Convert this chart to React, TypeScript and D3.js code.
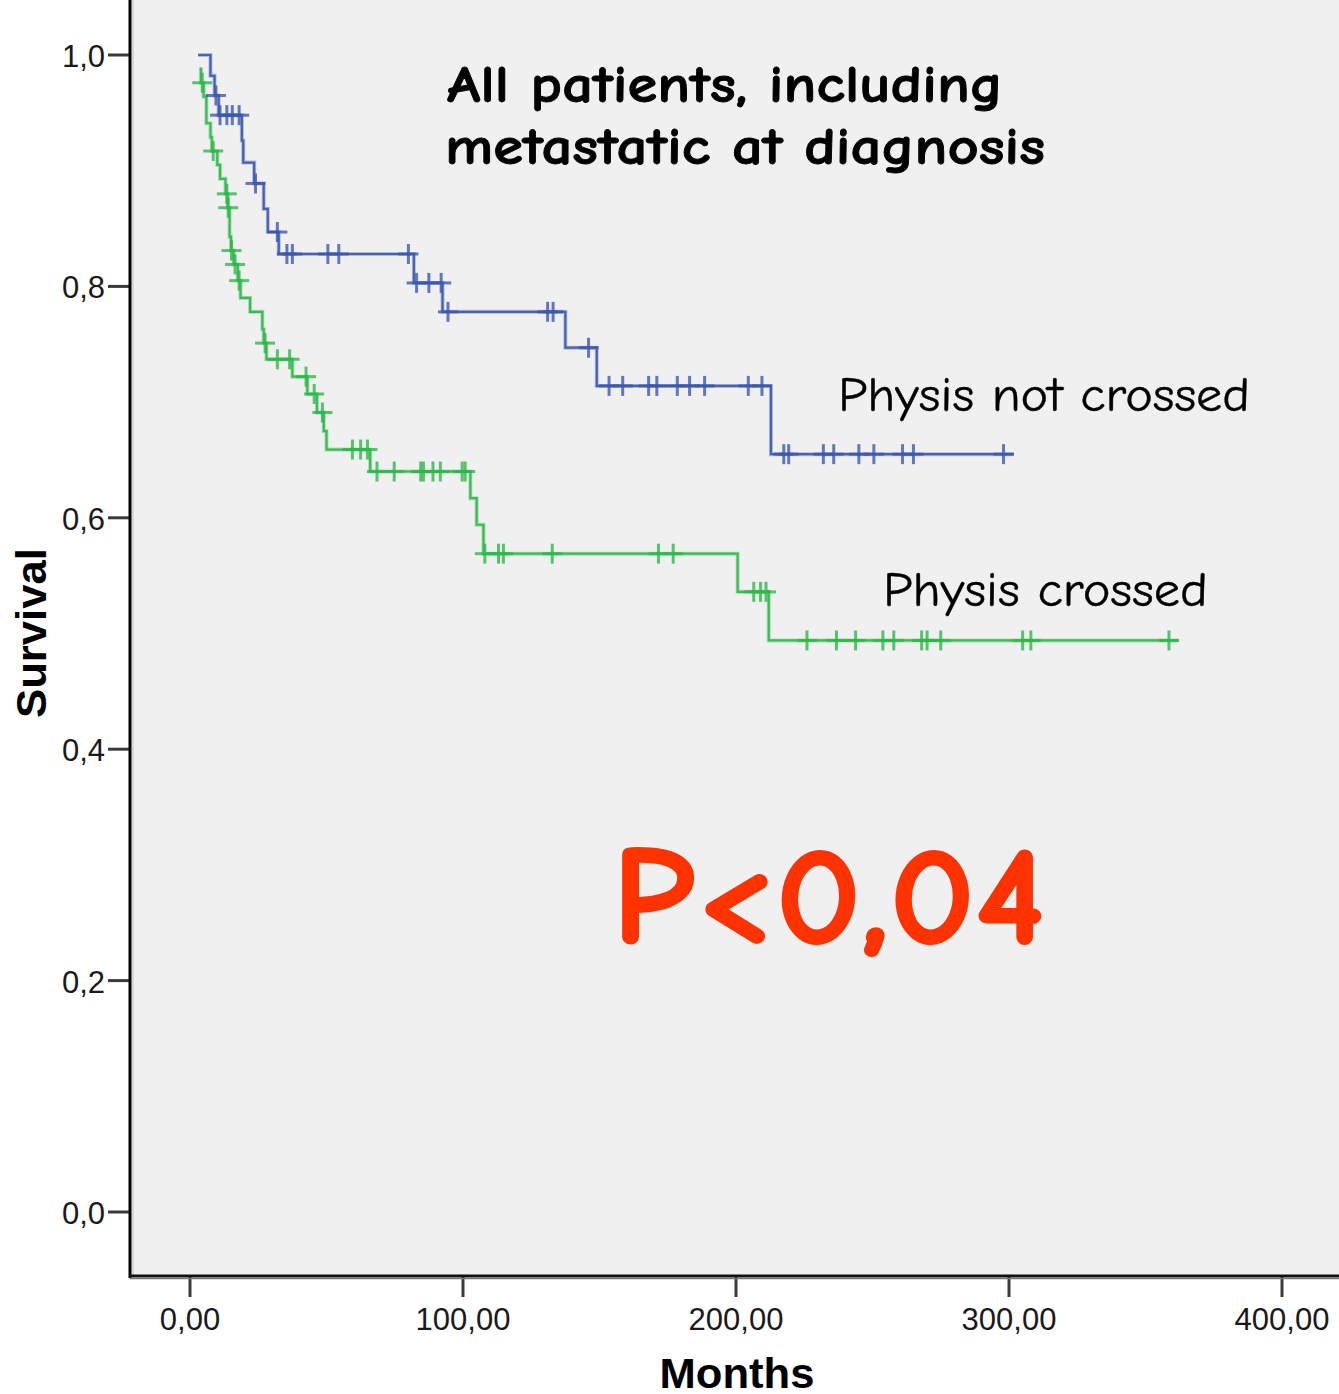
import React, { useEffect } from "react";
import * as d3 from "d3";

// ---- data ----
const yTicks = [0, 0.2, 0.4, 0.6, 0.8, 1.0];
const yTickLabels = ["0,0", "0,2", "0,4", "0,6", "0,8", "1,0"];
const xTicks = [0, 100, 200, 300, 400];
const xTickLabels = ["0,00", "100,00", "200,00", "300,00", "400,00"];

// Physis not crossed (blue): [time, survival] step points
const notCrossedSteps: [number, number][] = [
  [3, 1.0], [7.5, 0.982], [9, 0.965], [10.5, 0.948], [19, 0.926], [19.5, 0.907],
  [23.5, 0.889], [27, 0.867], [28.5, 0.847], [32.5, 0.828], [82, 0.803],
  [92.5, 0.778], [137.5, 0.747], [149, 0.714], [212.8, 0.655],
];
const notCrossedEnd = 301.8;
const notCrossedCensored = [
  9.5, 11, 13.5, 15.5, 18, 24, 32, 35.5, 37.5, 50.5, 54.5, 80, 83, 87.5, 92,
  94.5, 131, 133, 146, 153.5, 158.5, 168, 171, 178.5, 183, 188.5, 204.5, 209.5,
  217.5, 219.3, 232, 235.8, 245, 250.5, 261, 265, 298,
];

// Physis crossed (green)
const crossedSteps: [number, number][] = [
  [3.5, 0.988], [4, 0.976], [5, 0.964], [6, 0.941], [7.5, 0.929], [8, 0.917],
  [10, 0.905], [11, 0.893], [13, 0.88], [13.8, 0.868], [14.5, 0.843], [15, 0.831],
  [16, 0.819], [17.5, 0.805], [18.5, 0.79], [22, 0.778], [26.5, 0.763], [27, 0.751],
  [28, 0.737], [37.5, 0.722], [43, 0.707], [46.5, 0.691], [49, 0.675], [50, 0.659],
  [66, 0.64], [102.7, 0.617], [105, 0.594], [107.5, 0.569], [200.6, 0.536], [212, 0.494],
];
const crossedEnd = 362;
const crossedCensored = [
  4.5, 8.5, 13.5, 14, 15.2, 16.5, 18, 27.5, 32, 36.5, 42.5, 45.5, 48.5, 59.5, 62.5,
  65, 68.5, 74.8, 84.5, 85.5, 89, 91.7, 99.7, 100.8, 108, 113, 114.8, 132.7, 171.6,
  177, 206.5, 209, 211, 226, 236.8, 243.8, 253.8, 257.8, 268, 270, 275, 305, 308, 358.6,
];

const W = 1339;
const H = 1394;

function survAt(steps: [number, number][], t: number) {
  let v = steps[0][1];
  for (const [st, sv] of steps) if (st <= t) v = sv;
  return v;
}

function Curve({ steps, end, censored, color, x, y }: any) {
  const pts: [number, number][] = [...steps, [end, steps[steps.length - 1][1]]];
  const line = d3
    .line<[number, number]>()
    .x((d) => x(d[0]))
    .y((d) => y(d[1]))
    .curve(d3.curveStepAfter);
  return (
    <g>
      <path d={line(pts) || ""} fill="none" stroke={color} strokeWidth={4} strokeOpacity={0.35} />
      <path d={line(pts) || ""} fill="none" stroke={color} strokeWidth={2.2} strokeOpacity={0.9} />
      {censored.map((t: number, i: number) => {
        const cx = x(t);
        const cy = y(survAt(steps, t));
        return (
          <g key={i} stroke={color} strokeWidth={3} strokeOpacity={0.8}>
            <line x1={cx - 10} x2={cx + 10} y1={cy} y2={cy} />
            <line x1={cx} x2={cx} y1={cy - 10} y2={cy + 10} />
          </g>
        );
      })}
    </g>
  );
}

export default function App() {
  useEffect(() => {
    document.body.style.margin = "0";
  }, []);

  const x = d3.scaleLinear().domain([0, 400]).range([190, 1282]);
  const y = d3.scaleLinear().domain([0, 1]).range([1212, 55]);

  const plotLeft = 130;
  const plotBottom = 1276;
  const comic = '"Comic Sans MS", "Comic Neue", "DejaVu Sans", sans-serif';
  const axisFont = '"Liberation Sans", Arial, sans-serif';

  return (
    <svg width={W} height={H} style={{ display: "block", position: "absolute", left: 0, top: 0 }}>
      <rect x={0} y={0} width={W} height={H} fill="#ffffff" />
      <rect x={plotLeft} y={0} width={W - plotLeft} height={plotBottom} fill="#f0f0f0" />
      <line x1={plotLeft + 3} x2={plotLeft + 3} y1={0} y2={plotBottom} stroke="#d6d6d6" strokeWidth={2} />

      {/* y ticks */}
      {yTicks.map((v, i) => (
        <g key={i}>
          <line x1={108} x2={plotLeft} y1={y(v)} y2={y(v)} stroke="#3a3a3a" strokeWidth={3} />
          <text x={105} y={y(v) + 12} textAnchor="end" fontFamily={axisFont} fontSize={31} fill="#1a1a1a">
            {yTickLabels[i]}
          </text>
        </g>
      ))}
      {/* x ticks */}
      {xTicks.map((t, i) => (
        <g key={i}>
          <line x1={x(t)} x2={x(t)} y1={plotBottom} y2={1297} stroke="#3a3a3a" strokeWidth={3} />
          <text x={x(t)} y={1330} textAnchor="middle" fontFamily={axisFont} fontSize={31} fill="#1a1a1a">
            {xTickLabels[i]}
          </text>
        </g>
      ))}

      {/* axes */}
      <line x1={plotLeft} x2={plotLeft} y1={0} y2={plotBottom + 2} stroke="#000" strokeWidth={3} />
      <line x1={plotLeft} x2={W} y1={plotBottom} y2={plotBottom} stroke="#111" strokeWidth={3} />
      <line x1={plotLeft} x2={W} y1={plotBottom + 2.5} y2={plotBottom + 2.5} stroke="#777" strokeWidth={1.5} />

      {/* axis titles */}
      <text x={737} y={1388} textAnchor="middle" fontFamily={axisFont} fontWeight="bold" fontSize={43}
        textLength={155} lengthAdjust="spacingAndGlyphs" fill="#000">Months</text>
      <text transform="translate(46,633) rotate(-90)" textAnchor="middle" fontFamily={axisFont}
        fontWeight="bold" fontSize={43} textLength={170} lengthAdjust="spacingAndGlyphs" fill="#000">Survival</text>

      {/* curves */}
      <Curve steps={crossedSteps} end={crossedEnd} censored={crossedCensored} color="#2db84a" x={x} y={y} />
      <Curve steps={notCrossedSteps} end={notCrossedEnd} censored={notCrossedCensored} color="#3c58b0" x={x} y={y} />

      {/* annotations */}
      <text x={447} y={102} fontFamily={comic} fontWeight="bold" fontSize={52} textLength={556}
        lengthAdjust="spacingAndGlyphs" fill="#000" stroke="#000" strokeWidth={0.8}>All patients, including</text>
      <text x={445} y={164} fontFamily={comic} fontWeight="bold" fontSize={52} textLength={600}
        lengthAdjust="spacingAndGlyphs" fill="#000" stroke="#000" strokeWidth={0.8}>metastatic at diagnosis</text>
      <text x={838} y={411} fontFamily={comic} fontSize={49} textLength={412}
        lengthAdjust="spacingAndGlyphs" fill="#000" stroke="#000" strokeWidth={0.4}>Physis not crossed</text>
      <text x={883} y={606} fontFamily={comic} fontSize={49} textLength={325}
        lengthAdjust="spacingAndGlyphs" fill="#000" stroke="#000" strokeWidth={0.4}>Physis crossed</text>
      <text x={612} y={943} fontFamily={comic} fontWeight="bold" fontSize={140} textLength={433}
        lengthAdjust="spacingAndGlyphs" fill="#ff3300" stroke="#ff3300" strokeWidth={2}>P&lt;0,04</text>
    </svg>
  );
}
